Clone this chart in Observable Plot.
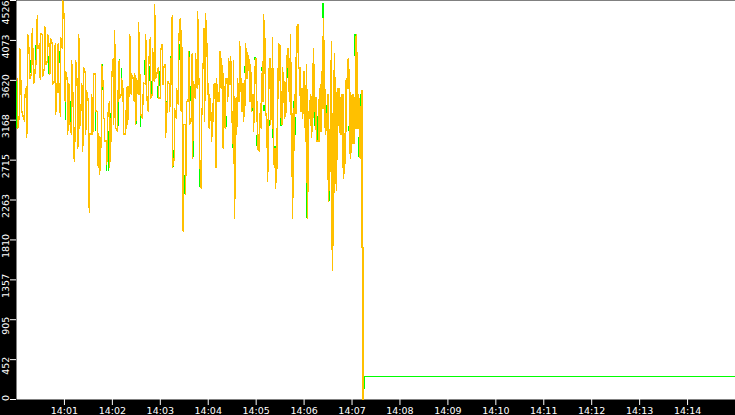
<!DOCTYPE html>
<html><head><meta charset="utf-8">
<script src="https://cdn.jsdelivr.net/npm/d3@7"></script>
<script src="https://cdn.jsdelivr.net/npm/@observablehq/plot@0.6"></script>
<style>html,body{margin:0;padding:0;background:#000;overflow:hidden} svg{display:block}</style>
</head><body><div id="chart"></div>
<script>
// seconds after 14:00:00 for each sampled column, with the column's high and low value
const yellowSec = [
1.25,3.75,6.25,10,12.5,13.75,16.25,18.75,20,21.25,
25,26.25,28.75,30,32.5,35,36.25,38.75,41.25,42.5,
45,47.5,48.75,51.25,52.5,55,57.5,60,61.25,63.75,
65,66.25,68.75,71.25,72.5,73.75,76.25,77.5,78.75,81.25,
82.5,83.75,86.25,87.5,90,91.25,93.75,95,96.25,98.75,
101.25,102.5,103.75,106.25,108.75,110,112.5,113.75,116.25,117.5,
118.75,121.25,122.5,123.75,126.25,127.5,128.75,131.25,132.5,133.75,
136.25,137.5,138.75,141.25,142.5,143.75,146.25,147.5,148.75,150,
152.5,155,157.5,158.75,161.25,162.5,165,167.5,170,172.5,
173.75,177.5,180,182.5,183.75,186.25,188.75,191.25,192.5,193.75,
195,197.5,200,202.5,205,206.25,207.5,208.75,211.25,212.5,
215,216.25,218.75,220,221.25,223.75,226.25,227.5,228.75,231.25,
232.5,233.75,235,236.25,238.75,240,241.25,243.75,245,246.25,
247.5,248.75,250,251.25,253.75,255,256.25,257.5,258.75,260,
261.25,263.75,265,266.25,267.5,268.75,271.25,272.5,273.75,275,
276.25,278.75,280,281.25,282.5,283.75,286.25,287.5,288.75,291.25,
292.5,293.75,296.25,297.5,300,301.25,303.75,306.25,308.75,311.25,
313.75,315,317.5,320,321.25,323.75,326.25,327.5,330,332.5,
335,337.5,340,342.5,343.75,345,347.5,350,352.5,355,
356.25,357.5,358.75,360,362.5,363.75,365,367.5,368.75,371.25,
372.5,375,378.75,380,381.25,383.75,386.25,388.75,390,392.5,
393.75,395,397.5,400,401.25,403.75,406.25,408.75,411.25,412.5,
415,417.5,420,421.25,422.5,425,426.25,427.5,430,431.25,
432.5,433.75];
const yellowHigh = [
3640,3980,3380,3420,3550,4140,3890,4030,4210,3980,
4230,4350,4030,4150,4140,4230,4150,4140,3980,4090,
4030,3980,4030,3980,4040,4100,4526,4290,3720,3610,
3580,3520,3840,3270,3080,3840,3530,4140,3870,3580,
3460,3760,3700,3500,3380,3010,3460,3270,3690,3690,
3270,3010,2900,3800,3530,3190,2930,3190,3380,3190,
3640,3870,4180,3500,3500,3800,3840,3640,3580,3530,
3270,3530,3550,4140,4060,3690,3640,3690,3640,3640,
4270,3420,3460,3590,4140,3920,3760,4100,3980,4480,
4060,3760,3950,4030,3760,3800,3610,3580,3870,4180,
4350,3300,3530,4030,4320,4180,3640,3120,3120,3380,
3950,3760,3690,3920,3610,3920,4400,4180,3640,3240,
3780,4210,4210,4380,3920,3580,3460,3190,3350,3550,
3580,3580,3640,3500,3800,3950,3870,3690,3690,3380,
3640,3640,3870,3800,3890,3760,3840,2900,3300,3420,
3640,4060,3950,3640,3580,3580,4030,3930,3930,3840,
3800,3610,3460,3690,3870,3380,3240,3690,4370,4030,
3160,3640,3870,4100,3420,2850,3420,4030,4010,3760,
3580,3840,3980,4140,3580,3240,3460,4210,4250,3760,
3530,3530,3530,3720,3800,3300,3270,3460,3420,3980,
3690,3420,3530,3420,3720,4320,3350,3270,3460,3120,
4060,2740,3920,2930,3530,3530,3460,3460,3040,3640,
3870,3420,3460,3460,3420,4140,3840,3460,3300,3190,
3500,1720];
const yellowLow = [
3080,3240,3270,3160,2970,3690,3640,3700,3800,3590,
3870,3980,3690,3630,3670,3760,3800,3840,3690,3720,
3580,3610,3240,3630,3610,3210,3980,3420,3380,3010,
3270,3160,3010,2850,2700,2930,2850,2930,3080,3380,
2820,3190,3010,3300,2440,2120,3010,3010,3160,3270,
2740,2630,2560,3010,3190,2930,2670,2780,2630,2930,
2930,3120,3460,3080,3040,3380,3420,3460,3380,3010,
3010,3080,3120,3580,3530,3460,3460,3380,3120,3270,
3460,3240,3190,3350,3580,3460,3270,3420,3460,3610,
3640,3420,3420,3580,3580,2970,3380,3270,3420,3580,
2630,2740,3190,3350,3610,3270,2290,1910,2330,2930,
3380,3120,3160,2740,3270,3420,3530,3580,2780,2400,
3240,3760,3160,3760,3460,3120,3080,2930,3040,3160,
3420,2930,2630,3380,3380,3580,3530,3160,2850,3190,
3080,3380,3500,3580,3580,3350,2900,2050,2560,3010,
3190,3380,3500,3270,3270,3160,3380,3640,3640,3500,
3380,3270,3040,3240,3160,2850,2820,3080,3380,3270,
2480,2670,3120,3380,2670,2400,2670,3420,3270,3120,
3190,3270,3610,3380,3010,2060,3010,3240,3760,3270,
3270,3190,3270,3240,2930,2060,2590,3190,2970,3240,
3270,2930,2930,3190,3040,3300,3010,3160,2250,2700,
2590,1460,2510,2370,2930,3040,3010,2510,2700,3040,
3530,2740,2930,3080,2900,3080,3240,3080,2740,2820,
1720,0];

const greenSec = [
0,6.25,10,17.5,23.75,36.25,40,48.75,53.75,61.25,
65,67.5,71.25,77.5,87.5,91.25,98.75,103.75,107.5,112.5,
115,117.5,122.5,127.5,128.75,131.25,136.25,137.5,141.25,143.75,
146.25,148.75,150,152.5,155,160,166.25,168.75,172.5,176.25,
178.75,182.5,183.75,187.5,191.25,192.5,195,196.25,200,203.75,
206.25,207.5,210,211.25,216.25,217.5,218.75,221.25,223.75,226.25,
228.75,231.25,235,236.25,238.75,243.75,246.25,247.5,248.75,251.25,
253.75,257.5,260,262.5,266.25,268.75,270,272.5,275,276.25,
281.25,283.75,286.25,288.75,291.25,296.25,298.75,301.25,307.5,310,
316.25,320,321.25,323.75,325,330,331.25,335,336.25,338.75,
341.25,347.5,348.75,351.25,352.5,355,358.75,363.75,365,367.5,
368.75,373.75,376.25,378.75,380,381.25,383.75,386.25,388.75,390,
391.25,393.75,396.25,398.75,402.5,407.5,416.25,420,423.75,426.25,
427.5,428.75,431.25];
const greenHigh = [
3610,3380,3410,3840,4010,4010,3890,3610,3950,3500,
3520,3380,3160,3720,3440,2820,3500,2820,3800,2870,
3040,3240,4030,3500,3860,3750,3210,3380,4140,3670,
3520,3380,3350,4010,3380,3840,3780,3610,4060,3550,
3720,3890,3720,3380,3550,3890,3610,2820,3500,4030,
3720,2820,2540,3120,3950,3550,3270,3100,3670,4380,
3100,2760,3950,4180,3890,3040,3520,3580,3210,3460,
3800,3690,3290,3210,3720,3780,2930,3180,3160,3330,
3580,3330,3780,3810,3840,3460,3880,2990,3770,3330,
3160,3470,3130,2870,2700,3670,3290,3460,3500,3840,
3810,3380,3200,4180,4060,3590,3330,2970,2730,3330,
3440,3290,3210,3380,3420,3420,4490,3350,3330,3240,
2730,3160,2530,3180,3160,3180,3100,3120,4140,3800,
3350,2970,3460];
const greenLow = [
3070,3270,3320,3700,3840,3860,3690,3240,3810,3160,
3380,3080,2800,3520,3330,2250,3040,2540,3500,2590,
2590,3100,3610,3100,3670,3550,3010,3210,3840,3550,
3420,3130,3120,3890,3080,3670,3610,3460,3840,3420,
3550,3780,3580,3270,3380,3780,3440,2630,3380,3840,
3610,2290,2330,2930,3840,3380,3160,2740,3550,4180,
2400,2560,3890,4060,3720,2930,3380,3520,3080,3410,
3720,3580,3080,3080,3640,3690,2850,3010,2990,3180,
3530,3270,3700,3700,3760,3270,3840,2870,3720,3270,
3100,3360,2960,2820,2650,3610,3100,3380,3380,3640,
3760,3210,2990,4060,4010,3530,3250,2050,2570,3290,
3380,3100,2930,3270,3240,3120,4320,3210,3160,3120,
2250,3120,2340,3040,3100,3100,3040,2930,3890,3530,
3270,2740,3190];
// green after the drop: seconds after 14:00:00 and values
const greenTailSec = [435.2, 435.4, 900];
const greenTailValue = [130, 264, 264];

const yTickValues = [0, 452, 905, 1357, 1810, 2263, 2715, 3168, 3620, 4073, 4526];
const xTickLabels = ["14:01","14:02","14:03","14:04","14:05","14:06","14:07","14:08","14:09","14:10","14:11","14:12","14:13","14:14"];

const base = Date.UTC(2024, 0, 1, 14, 0, 0);
const toDate = s => new Date(base + s * 1000);

function zigzag(sec, hi, lo) {
  const pts = [];
  let last = null;
  const n = Math.min(sec.length, hi.length, lo.length);
  for (let i = 0; i < n; i++) {
    let a = hi[i], b = lo[i];
    if (last !== null && Math.abs(last - b) < Math.abs(last - a)) [a, b] = [b, a];
    pts.push({t: toDate(sec[i]), v: a}, {t: toDate(sec[i] + 0.3), v: b});
    last = b;
  }
  return pts;
}

const yellowPts = zigzag(yellowSec, yellowHigh, yellowLow);
const greenCols = greenSec.map((s, i) => ({t: toDate(s), hi: greenHigh[i], lo: greenLow[i]}));
const greenTail = greenTailSec.map((s, i) => ({t: toDate(s), v: greenTailValue[i]}));

const xTickDates = xTickLabels.map(l => {
  const [h, m] = l.split(":").map(Number);
  return new Date(Date.UTC(2024, 0, 1, h, m, 0));
});

const yMid = yTickValues.slice(1, -1);
const yFirst = [yTickValues[0]];
const yLast = [yTickValues[yTickValues.length - 1]];
const labelOpts = {y: d => d, text: d => String(d), frameAnchor: "left", rotate: -90,
  textAnchor: "middle", lineAnchor: "middle", dx: -10.5, fill: "#fff"};

const chart = Plot.plot({
  width: 735, height: 415,
  marginLeft: 16, marginRight: 0, marginTop: 0, marginBottom: 16,
  style: {background: "#000", color: "#fff", fontFamily: "DejaVu Sans", fontSize: "9.5px", overflow: "visible"},
  x: {type: "utc", domain: [toDate(0), toDate(900)]},
  y: {domain: [0, 4526]},
  marks: [
    Plot.frame({fill: "#fff", stroke: "none"}),
    Plot.ruleX(greenCols, {x: "t", y1: "lo", y2: "hi", stroke: "#00ff00", strokeWidth: 1.4, shapeRendering: "crispEdges"}),
    Plot.line(greenTail, {x: "t", y: "v", stroke: "#00ff00", strokeWidth: 1.2, shapeRendering: "crispEdges"}),
    Plot.line(yellowPts, {x: "t", y: "v", stroke: "#ffc000", strokeWidth: 1.5, shapeRendering: "crispEdges"}),
    Plot.axisX(xTickDates, {tickSize: 6, tickPadding: 2, tickFormat: d3.utcFormat("%H:%M"), label: null, stroke: "#fff", fill: "#fff"}),
    Plot.axisY(yTickValues, {tickSize: 6, tickFormat: () => "", label: null, stroke: "#fff"}),
    Plot.text(yMid, {...labelOpts, dy: 6}),
    Plot.text(yFirst, {...labelOpts, dy: -1.5}),
    Plot.text(yLast, {...labelOpts, dy: 12})
  ]
});
document.getElementById("chart").appendChild(chart);
</script>
</body></html>
